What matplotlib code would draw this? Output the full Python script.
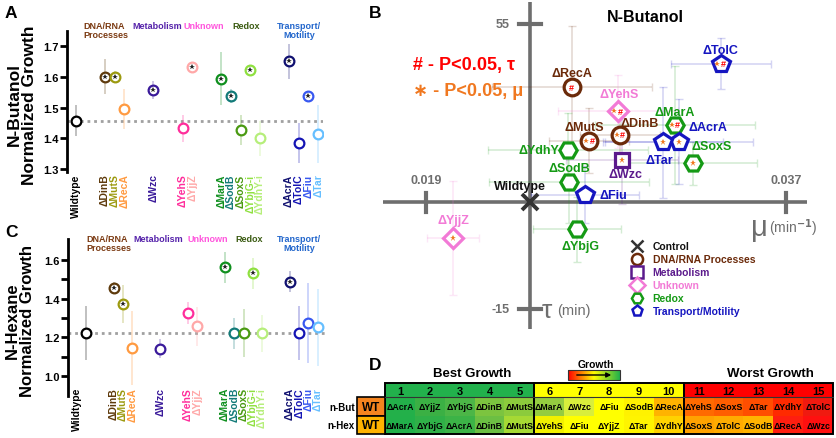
import numpy as np
import matplotlib.pyplot as plt
from matplotlib.patches import Rectangle
from matplotlib.colors import LinearSegmentedColormap
from matplotlib.transforms import offset_copy

plt.rcParams['font.family'] = ['Liberation Sans', 'DejaVu Sans']
plt.rcParams['font.weight'] = 'bold'

# ---------------- data: panels A / C ----------------
strains = ['Wildtype', 'ΔDinB', 'ΔMutS', 'ΔRecA', 'ΔWzc', 'ΔYehS', 'ΔYjjZ',
           'ΔMarA', 'ΔSodB', 'ΔSoxS', 'ΔYbjG-i', 'ΔYdhY-i',
           'ΔAcrA', 'ΔTolC', 'ΔFiu', 'ΔTar']
strain_colors = ['black', '#5e3a0c', '#9c9a10', '#ff9a40', '#3a1a9a', '#ff2d9b', '#ffa8a8',
                 '#0f8f1e', '#127a78', '#4a9a12', '#8fe040', '#b6ee7a',
                 '#101070', '#1414b4', '#3858f0', '#66bfff']
but_mean = [1.457, 1.601, 1.600, 1.495, 1.558, 1.432, 1.633, 1.595, 1.538, 1.427,
            1.622, 1.400, 1.651, 1.385, 1.537, 1.414]
but_err = [0.05, 0.057, 0.02, 0.066, 0.03, 0.044, 0.012, 0.086, 0.024, 0.048,
           0.01, 0.057, 0.057, 0.065, 0.018, 0.094]
but_sig = [0, 1, 1, 0, 1, 0, 1, 1, 1, 0, 1, 0, 1, 0, 1, 0]
hex_mean = [1.221, 1.455, 1.372, 1.145, 1.141, 1.324, 1.257, 1.562, 1.222, 1.222,
            1.531, 1.222, 1.488, 1.222, 1.277, 1.252]
hex_err = [0.14, 0.03, 0.097, 0.19, 0.05, 0.057, 0.1, 0.08, 0.08, 0.125,
           0.08, 0.095, 0.055, 0.138, 0.207, 0.2]
hex_sig = [0, 1, 1, 0, 0, 0, 0, 1, 0, 0, 1, 0, 1, 0, 0, 0]

cat_names = ['DNA/RNA\nProcesses', 'Metabolism', 'Unknown', 'Redox', 'Transport/\nMotility']
cat_colors = ['#7b3a12', '#5522aa', '#ff55dd', '#3b5b12', '#2266cc']

# ---------------- data: panel B ----------------
b_strains = ['ΔRecA', 'ΔMutS', 'ΔDinB', 'ΔWzc', 'ΔYehS', 'ΔYjjZ', 'ΔMarA', 'ΔSoxS',
             'ΔSodB', 'ΔYdhY', 'ΔYbjG', 'ΔTolC', 'ΔAcrA', 'ΔTar', 'ΔFiu']
b_group = [1, 1, 1, 2, 3, 3, 4, 4, 4, 4, 4, 5, 5, 5, 5]
b_mu = [0.02629, 0.02717, 0.0287, 0.02882, 0.02858, 0.02037, 0.03145, 0.03233,
        0.02617, 0.02612, 0.02657, 0.03373, 0.03167, 0.03087, 0.02695]
b_tau = [39.4, 26.3, 27.8, 21.7, 33.5, 2.4, 30.2, 20.8, 16.1, 24.1, 4.6, 45.2, 26.1, 25.9, 13.0]
b_mu_err = [0.004, 0.002, 0.002, 0.0028, 0.003, 0.0013, 0.004, 0.0032, 0.004, 0.004,
            0.0022, 0.0025, 0.0037, 0.003, 0.0027]
b_tau_err = [15, 8, 7, 11, 9, 14, 14.5, 5.3, 10, 9, 8, 6.3, 10.5, 13.7, 7]
b_sig_tau = [1, 1, 1, 0, 1, 0, 1, 0, 0, 0, 0, 1, 0, 0, 0]
b_sig_mu = [0, 1, 1, 1, 1, 1, 1, 1, 0, 0, 0, 1, 1, 1, 0]
wt_mu, wt_tau = 0.0242, 11.2
b_names = ['Control', 'DNA/RNA Processes', 'Metabolism', 'Unknown', 'Redox', 'Transport/Motility']
b_colors = ['#333333', '#6b2a0a', '#5b1a8c', '#f27ad6', '#159a15', '#1515c0']
b_markers = ['x', 'o', 's', 'D', 'H', 'p']

# ---------------- data: panel D ----------------
ranks = list(range(1, 16))
but_rank = ['ΔAcrA', 'ΔYjjZ', 'ΔYbjG', 'ΔDinB', 'ΔMutS', 'ΔMarA', 'ΔWzc', 'ΔFiu',
            'ΔSodB', 'ΔRecA', 'ΔYehS', 'ΔSoxS', 'ΔTar', 'ΔYdhY', 'ΔTolC']
hex_rank = ['ΔMarA', 'ΔYbjG', 'ΔAcrA', 'ΔDinB', 'ΔMutS', 'ΔYehS', 'ΔFiu', 'ΔYjjZ',
            'ΔTar', 'ΔYdhY', 'ΔSoxS', 'ΔTolC', 'ΔSodB', 'ΔRecA', 'ΔWzc']
but_cell = ['#23b04a', '#3bb044', '#4cb647', '#7cc43f', '#8ccb3c', '#95cc40', '#d8ee3c', '#ffff00',
            '#fff200', '#ffb300', '#ff6a00', '#ff5e00', '#ff4e00', '#ff2a00', '#f01a10']
hex_cell = ['#22b04a', '#30b048', '#3cb347', '#6cbf43', '#a6d934', '#f2f000', '#ffff00', '#ffff00',
            '#fff400', '#ffd200', '#ffa200', '#ffab00', '#ffb400', '#ff1e10', '#ff1010']
head_cell = ['#22b14c'] * 5 + ['#ffff00'] * 5 + ['#ff0000'] * 5

W, H = 836, 439
fig = plt.figure(figsize=(W / 100, H / 100), dpi=100)


def rect(l, t, r, b):
    return [l / W, 1 - b / H, (r - l) / W, (b - t) / H]


def ftext(x, y, s, **kw):
    fig.text(x / W, 1 - y / H, s, **kw)


# ---------------- panels A and C ----------------
pos = [0, 3, 4, 5, 8, 11, 12, 15, 16, 17, 18, 19, 22, 23, 24, 25]
panels = [
    dict(box=(67, 32, 323, 173), xlim=(-0.93, 25.5), ylim=(1.29, 1.75), mean=but_mean, err=but_err,
         sig=but_sig, major=[1.3, 1.4, 1.5, 1.6, 1.7], minor=[], hy=26,
         hx=[83, 132, 183, 232, 299], ylab='N-Butanol\nNormalized Growth', ly=(22, 105),
         lsize=12.5, wt_lab=0, pad=1),
    dict(box=(68, 240, 327, 397), xlim=(-1.94, 26), ylim=(0.897, 1.709), mean=hex_mean, err=hex_err,
         sig=hex_sig, major=[1.0, 1.2, 1.4, 1.6], minor=[1.1, 1.3, 1.5], hy=239,
         hx=[86, 133, 187, 235, 299], ylab='N-Hexane\nNormalized Growth', ly=(20, 321),
         lsize=12, wt_lab=-1.0, pad=-6.5),
]
for p in panels:
    ax = fig.add_axes(rect(*p['box']))
    ax.set_xlim(*p['xlim'])
    ax.set_ylim(*p['ylim'])
    ax.axhline(p['mean'][0], color='#a0a0a0', lw=2, dashes=(1, 1.4), zorder=1)
    for i in range(len(strains)):
        c = strain_colors[i]
        ax.errorbar(pos[i], p['mean'][i], yerr=p['err'][i], fmt='none', ecolor=c,
                    alpha=0.25, elinewidth=1.4, zorder=2)
        ax.plot(pos[i], p['mean'][i], 'o', ms=7, mfc='white', mec=c, mew=1.6, zorder=3)
        if p['sig'][i]:
            ax.plot(pos[i], p['mean'][i], '*', ms=4, color='#222222', mew=0, zorder=4)
    for s in ['top', 'right', 'bottom']:
        ax.spines[s].set_visible(False)
    ax.spines['left'].set_linewidth(2)
    ax.set_yticks(p['major'])
    ax.set_yticks(p['minor'], minor=True)
    ax.set_yticklabels([f'{v:.1f}' for v in p['major']], fontsize=8, fontweight='bold')
    ax.tick_params(axis='y', which='both', direction='out', length=5, width=2, pad=1)
    tick_x = list(pos)
    tick_x[0] = p['wt_lab']
    ax.set_xticks(tick_x)
    ax.set_xticklabels(strains, rotation=90, fontsize=7.5, fontweight='bold')
    for lab, c in zip(ax.get_xticklabels(), strain_colors):
        lab.set_color(c)
    ax.tick_params(axis='x', length=0, pad=p['pad'])
    for name, c, x in zip(cat_names, cat_colors, p['hx']):
        ha = 'center' if name.startswith('Transport') else 'left'
        ftext(x, p['hy'] - 4, name, color=c, fontsize=6.5, fontweight='bold', ha=ha, va='top',
              linespacing=1.0, multialignment=ha)
    ftext(p['ly'][0], p['ly'][1], p['ylab'], rotation=90, ha='center', va='center',
          fontsize=p['lsize'], fontweight='bold', linespacing=1.05)

ftext(11, 14, 'A', fontsize=12.5, fontweight='bold', ha='center', va='center')
ftext(11, 233, 'C', fontsize=12.5, fontweight='bold', ha='center', va='center')
ftext(375, 14, 'B', fontsize=12.5, fontweight='bold', ha='center', va='center')
ftext(375, 366, 'D', fontsize=12.5, fontweight='bold', ha='center', va='center')

# ---------------- panel B ----------------
axB = fig.add_axes(rect(383, 0, 830, 330))
axB.set_xlim(0.01685, 0.0392)
axB.set_ylim(-19.9, 61.1)
axB.axis('off')
gray = '#6e6e6e'
axB.plot([0.01685, 0.03805], [wt_tau, wt_tau], color=gray, lw=2.6, zorder=1, solid_capstyle='butt')
axB.plot([wt_mu, wt_mu], [-19.9, 60.4], color=gray, lw=2.6, zorder=1, solid_capstyle='butt')
for m in [0.019, 0.037]:
    axB.plot([m, m], [wt_tau - 2.3, wt_tau + 2.3], color=gray, lw=3, zorder=1)
    axB.text(m, wt_tau + 4, f'{m:.3f}', color=gray, fontsize=9, fontweight='bold',
             ha='center', va='bottom')
for t in [55, -15]:
    axB.plot([wt_mu - 0.00053, wt_mu + 0.00053], [t, t], color=gray, lw=3, zorder=1)
    axB.text(wt_mu - 0.001, t, f'{t}', color=gray, fontsize=9, fontweight='bold',
             ha='right', va='center')
axB.text(0.03525, wt_tau - 6, 'μ', color=gray, fontsize=21, fontweight='normal', ha='left', va='center')
axB.text(0.03615, wt_tau - 6, '(min$^{-1}$)', color=gray, fontsize=10, fontweight='normal',
         ha='left', va='center')
axB.text(wt_mu + 0.00058, -15.3, 'τ', color=gray, fontsize=19, fontweight='normal', ha='left', va='center')
axB.text(wt_mu + 0.00135, -15.3, '(min)', color=gray, fontsize=10.5, fontweight='normal',
         ha='left', va='center')
axB.text(0.02999, 56.7, 'N-Butanol', fontsize=11.5, fontweight='bold', ha='center', va='center')
axB.text(0.01833, 45.0, '# - P<0.05, τ', color='#ff0000', fontsize=13, fontweight='bold',
         ha='left', va='center')
axB.text(0.01833, 38.6, '∗ - P<0.05, μ', color='#f07820', fontsize=13, fontweight='bold',
         ha='left', va='center')

lab_off = {'ΔTolC': (0, 14), 'ΔRecA': (0, 14), 'ΔYehS': (2, 17), 'ΔMarA': (0, 13),
           'ΔDinB': (20, 12), 'ΔAcrA': (29, 15), 'ΔMutS': (-5, 14), 'ΔYdhY': (-30, 0),
           'ΔSoxS': (19, 17), 'ΔTar': (-4, -18), 'ΔSodB': (0, 14), 'ΔWzc': (3, -14),
           'ΔFiu': (28, 0), 'ΔYjjZ': (0, 18), 'ΔYbjG': (3, -17)}
msize = {'o': 12, 's': 10, 'D': 10.5, 'H': 12.5, 'p': 13}
for i, s in enumerate(b_strains):
    g = b_group[i]
    c = b_colors[g]
    mk = b_markers[g]
    axB.errorbar(b_mu[i], b_tau[i], xerr=b_mu_err[i], yerr=b_tau_err[i], fmt='none',
                 ecolor=c, alpha=0.18, elinewidth=1.2, capsize=3, zorder=2)
    axB.plot(b_mu[i], b_tau[i], mk, ms=msize[mk], mfc='white', mec=c, mew=2.3, zorder=4)
    if b_sig_tau[i] and b_sig_mu[i]:
        axB.plot(b_mu[i], b_tau[i], '*', ms=4, color='#f07820', mew=0, zorder=5,
                 transform=offset_copy(axB.transData, fig, x=-3.5, y=0, units='dots'))
        axB.text(b_mu[i], b_tau[i], '#', color='#ff0000', fontsize=6.5, fontweight='bold',
                 ha='center', va='center', zorder=5,
                 transform=offset_copy(axB.transData, fig, x=2.5, y=0, units='dots'))
    elif b_sig_tau[i]:
        axB.text(b_mu[i], b_tau[i], '#', color='#ff0000', fontsize=6.5, fontweight='bold',
                 ha='center', va='center', zorder=5)
    elif b_sig_mu[i]:
        axB.plot(b_mu[i], b_tau[i], '*', ms=4.5, color='#f07820', mew=0, zorder=5)
    dx, dy = lab_off[s]
    axB.annotate(s, (b_mu[i], b_tau[i]), xytext=(dx, dy), textcoords='offset pixels',
                 color=c, fontsize=9, fontweight='bold', ha='center', va='center', zorder=6)
axB.plot(wt_mu, wt_tau, 'x', ms=12, mew=2.8, color=b_colors[0], zorder=4)
axB.annotate('Wildtype', (wt_mu, wt_tau), xytext=(-10, 16), textcoords='offset pixels',
             color='#111111', fontsize=9, fontweight='bold', ha='center', va='center')

for k, (name, c, mk) in enumerate(zip(b_names, b_colors, b_markers)):
    yy = 1 - (246.7 + 13 * k) / 330
    axB.plot(0.569, yy, mk, ms=8 if mk != 'x' else 9, mfc='white', mec=c, mew=1.8,
             color=c, transform=axB.transAxes, clip_on=False)
    axB.text(0.603, yy, name, color=c if k else '#111111', fontsize=7.5, fontweight='bold',
             ha='left', va='center', transform=axB.transAxes)

# ---------------- panel D ----------------
axD = fig.add_axes(rect(320, 350, 836, 439))
axD.set_xlim(320, 836)
axD.set_ylim(439, 350)
axD.axis('off')
x0, cw = 385, (833 - 385) / 15
y_head, hh, rh = 384.5, 14, 18.5
for j in range(15):
    xl = x0 + j * cw
    axD.add_patch(Rectangle((xl, y_head), cw, hh, facecolor=head_cell[j], edgecolor='none'))
    axD.text(xl + cw / 2, y_head + hh / 2 + 0.5, str(ranks[j]), fontsize=8, fontweight='bold',
             ha='center', va='center')
    for r, (names, cols) in enumerate([(but_rank, but_cell), (hex_rank, hex_cell)]):
        yt = y_head + hh + r * rh
        axD.add_patch(Rectangle((xl, yt), cw, rh, facecolor=cols[j], edgecolor='none'))
        axD.text(xl + cw / 2, yt + rh / 2, names[j], fontsize=6.3, fontweight='bold',
                 ha='center', va='center')
for g in range(3):
    axD.add_patch(Rectangle((x0 + g * 5 * cw, y_head), 5 * cw, hh + 2 * rh, facecolor='none',
                            edgecolor='black', lw=1.4))
    axD.plot([x0 + g * 5 * cw, x0 + (g + 1) * 5 * cw], [y_head + hh] * 2, color='#333333', lw=0.8)
wt_cols = ['#f5841f', '#ffb300']
for r, (lab, c) in enumerate(zip(['n-But', 'n-Hex'], wt_cols)):
    yt = y_head + hh + r * rh
    axD.add_patch(Rectangle((357, yt), x0 - 357, rh, facecolor=c, edgecolor='black', lw=1.2))
    axD.text((357 + x0) / 2, yt + rh / 2, 'WT', fontsize=8.5, fontweight='bold', ha='center', va='center')
    axD.text(355, yt + rh / 2, lab, fontsize=7, fontweight='bold', ha='right', va='center')

axD.text(472, 374.5, 'Best Growth', fontsize=9.5, fontweight='bold', ha='center', va='center')
axD.text(770, 374.5, 'Worst Growth', fontsize=9.5, fontweight='bold', ha='center', va='center')
axD.text(595.5, 365.5, 'Growth', fontsize=7.5, fontweight='bold', ha='center', va='center')
grad = LinearSegmentedColormap.from_list('g', ['#ff0000', '#ffff00', '#22b14c'])
axD.imshow(np.linspace(0, 1, 100)[None, :], cmap=grad, aspect='auto',
           extent=(568, 620, 381, 371), zorder=2)
axD.add_patch(Rectangle((568, 371), 52, 10, facecolor='none', edgecolor='#333333', lw=0.8, zorder=3))
axD.annotate('', xy=(614, 376), xytext=(574, 376),
             arrowprops=dict(arrowstyle='-|>', color='black', lw=1, mutation_scale=7), zorder=4)
axD.set_xlim(320, 836)
axD.set_ylim(439, 350)

fig.savefig('out.png', dpi=100)
plt.close()
